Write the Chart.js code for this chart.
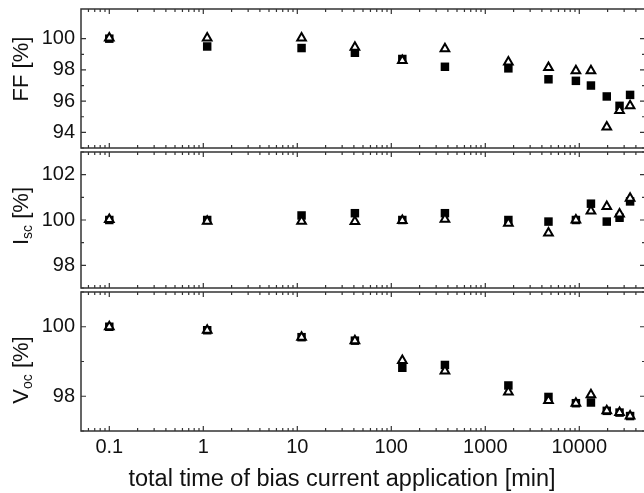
<!DOCTYPE html>
<html><head><meta charset="utf-8">
<script src="https://cdn.jsdelivr.net/npm/chart.js@4.4.1/dist/chart.umd.min.js"></script>
<style>
html,body{margin:0;padding:0;background:#fff;overflow:hidden;width:644px;height:493px;}
canvas{position:absolute;left:0;}
</style></head><body>
<canvas id="c1" width="652" height="155" style="top:0px"></canvas>
<canvas id="c2" width="652" height="150" style="top:145px"></canvas>
<canvas id="c3" width="652" height="208" style="top:285px"></canvas>
<script>
// ---- data ----
const times = [0.1, 1.1, 11.1, 41, 131, 372, 1760, 4700, 9200, 13300, 19600, 26800, 34700];
const ffSquares    = [100.0, 99.5, 99.4, 99.1, 98.7, 98.2, 98.1, 97.4, 97.3, 97.0, 96.3, 95.7, 96.4];
const ffTriangles  = [100.05, 100.05, 100.05, 99.45, 98.6, 99.35, 98.5, 98.15, 97.95, 97.95, 94.35, 95.4, 95.7];
const iscSquares   = [100.0, 100.0, 100.2, 100.3, 100.0, 100.3, 100.0, 99.93, 100.0, 100.72, 99.93, 100.1, 100.82];
const iscTriangles = [100.02, 99.95, 99.95, 99.93, 99.98, 100.03, 99.86, 99.43, 100.0, 100.4, 100.6, 100.27, 100.96];
const vocSquares   = [100.0, 99.9, 99.7, 99.6, 98.82, 98.9, 98.31, 97.98, 97.8, 97.82, 97.58, 97.53, 97.43];
const vocTriangles = [100.0, 99.9, 99.7, 99.6, 99.03, 98.73, 98.12, 97.88, 97.8, 98.04, 97.58, 97.53, 97.43];

const xMin = 0.05, xMax = 50000;
const xDecades = [0.1, 1, 10, 100, 1000, 10000];
const xTickLabels = ['0.1', '1', '10', '100', '1000', '10000'];
const xTitle = 'total time of bias current application [min]';

const ffRange = [93, 101.9];
const iscRange = [97, 103];
const vocRange = [97, 101];

// ---- helpers ----
const FONT = "'Liberation Sans', Arial, Helvetica, sans-serif";
function isDecade(v) { const l = Math.log10(v); return Math.abs(l - Math.round(l)) < 1e-9; }
function xTickValues() {
  const out = [];
  for (let e = -2; e <= 4; e++) for (let m = 1; m <= 9; m++) {
    const v = m * Math.pow(10, e);
    if (v >= xMin * (1 - 1e-9) && v <= xMax * (1 + 1e-9)) out.push(v);
  }
  return out;
}
function pts(ys) { return times.map((t, i) => ({x: t, y: ys[i]})); }

const framePlugin = {
  id: 'frame',
  afterDatasetsDraw(chart) {
    const {ctx, chartArea: a} = chart;
    const x = chart.scales.x, y = chart.scales.y;
    ctx.save();
    ctx.strokeStyle = '#333';
    ctx.lineWidth = 1.5;
    ctx.strokeRect(a.left, a.top, a.right - a.left, a.bottom - a.top);
    ctx.lineWidth = 1.2;
    ctx.beginPath();
    x.ticks.forEach(t => {
      const px = x.getPixelForValue(t.value);
      if (px < a.left + 1 || px > a.right - 1) return;
      const len = isDecade(t.value) ? 5 : 3;
      ctx.moveTo(px, a.top); ctx.lineTo(px, a.top + len);
      ctx.moveTo(px, a.bottom); ctx.lineTo(px, a.bottom - len);
    });
    y.ticks.forEach(t => {
      const py = y.getPixelForValue(t.value);
      const len = (Math.round(t.value) % 2 === 0) ? 5 : 3;
      ctx.moveTo(a.left, py); ctx.lineTo(a.left + len, py);
      ctx.moveTo(a.right, py); ctx.lineTo(a.right - len, py);
    });
    ctx.stroke();
    const yt = chart.options.plugins.frame;
    if (yt && yt.parts) {
      ctx.fillStyle = '#111';
      ctx.textBaseline = 'alphabetic';
      ctx.textAlign = 'left';
      let total = 0;
      yt.parts.forEach(p => { ctx.font = p.size + 'px ' + FONT; total += ctx.measureText(p.t).width; });
      ctx.translate(yt.x, yt.cy);
      ctx.rotate(-Math.PI / 2);
      let u = -total / 2;
      yt.parts.forEach(p => { ctx.font = p.size + 'px ' + FONT; ctx.fillText(p.t, u, p.dy || 0); u += ctx.measureText(p.t).width; });
      ctx.setTransform(1, 0, 0, 1, 0, 0);
    }
    if (yt && yt.xTitle) {
      ctx.fillStyle = '#111';
      ctx.font = yt.xTitle.size + 'px ' + FONT;
      ctx.textAlign = 'center';
      ctx.textBaseline = 'alphabetic';
      ctx.fillText(yt.xTitle.t, yt.xTitle.x, yt.xTitle.y);
    }
    ctx.restore();
  }
};

function makeChart(id, sq, tri, range, opts) {
  const showX = !!opts.showX;
  return new Chart(document.getElementById(id), {
    type: 'scatter',
    data: {
      datasets: [
        { data: pts(tri), pointStyle: 'triangle', radius: 5, borderWidth: 2, borderColor: '#000', backgroundColor: '#fff', order: 0 },
        { data: pts(sq), pointStyle: 'rect', radius: 6, borderWidth: 0, borderColor: '#000', backgroundColor: '#000', order: 1 }
      ]
    },
    options: {
      responsive: false,
      animation: false,
      events: [],
      layout: { padding: { top: opts.padTop, bottom: opts.padBottom, left: 0, right: 4 } },
      plugins: {
        legend: { display: false },
        tooltip: { enabled: false },
        frame: opts.frame
      },
      scales: {
        x: {
          type: 'logarithmic', min: xMin, max: xMax,
          grid: { display: false, drawTicks: false },
          border: { display: false },
          afterBuildTicks: s => { s.ticks = xTickValues().map(v => ({ value: v })); },
          afterFit: s => { s.height = opts.xHeight; s.paddingLeft = 0; s.paddingRight = 0; s.paddingTop = 0; s.paddingBottom = 0; },
          ticks: {
            display: showX, autoSkip: false, maxRotation: 0, minRotation: 0, padding: 4,
            color: '#111', font: { family: FONT, size: 20 },
            callback: v => { const i = xDecades.findIndex(d => Math.abs(d - v) / d < 1e-9); return i >= 0 ? xTickLabels[i] : ''; }
          }
        },
        y: {
          min: range[0], max: range[1],
          grid: { display: false, drawTicks: false },
          border: { display: false },
          afterBuildTicks: s => { s.ticks = s.ticks.filter(t => Math.abs(t.value - Math.round(t.value)) < 1e-6); },
          afterFit: s => { s.width = 81; s.paddingTop = 0; s.paddingBottom = 0; s.paddingLeft = 0; s.paddingRight = 0; },
          ticks: {
            stepSize: 1, autoSkip: false, padding: 6, color: '#111', font: { family: FONT, size: 20 },
            callback: v => (Math.round(v) % 2 === 0 ? String(v) : '')
          }
        }
      }
    },
    plugins: [framePlugin]
  });
}

makeChart('c1', ffSquares, ffTriangles, ffRange, {
  padTop: 9, padBottom: 5, xHeight: 0,
  frame: { x: 28, cy: 69, parts: [{ t: 'FF [%]', size: 22 }] }
});
makeChart('c2', iscSquares, iscTriangles, iscRange, {
  padTop: 5, padBottom: 5, xHeight: 0,
  frame: { x: 28, cy: 216 - 145, parts: [{ t: 'I', size: 22 }, { t: 'sc', size: 14, dy: 4 }, { t: ' [%]', size: 22 }] }
});
makeChart('c3', vocSquares, vocTriangles, vocRange, {
  padTop: 5, padBottom: 0, xHeight: 62, showX: true,
  frame: { x: 28, cy: 370 - 285, parts: [{ t: 'V', size: 22 }, { t: 'oc', size: 14, dy: 4 }, { t: ' [%]', size: 22 }],
           xTitle: { t: xTitle, size: 23.5, x: 342, y: 486 - 285 } }
});
</script>
</body></html>
